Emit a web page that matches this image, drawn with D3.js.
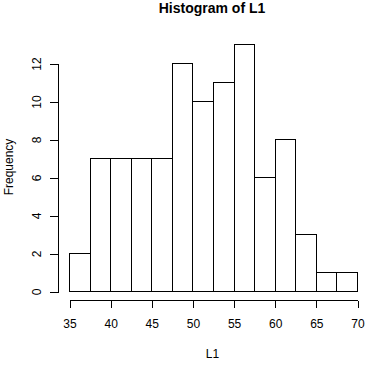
<!DOCTYPE html>
<html>
<head>
<meta charset="utf-8">
<script src="https://cdn.jsdelivr.net/npm/d3@7"></script>
<style>
  body { margin: 0; background: #fff; }
  text { font-family: "Liberation Sans", Arial, sans-serif; }
</style>
</head>
<body>
<svg id="chart" width="370" height="366"></svg>
<script>
// bordi delle classi e frequenze
const breaks = [35, 37.5, 40, 42.5, 45, 47.5, 50, 52.5, 55, 57.5, 60, 62.5, 65, 67.5, 70];
const counts = [2, 7, 7, 7, 7, 12, 10, 11, 13, 6, 8, 3, 1, 1];
const xTicks = [35, 40, 45, 50, 55, 60, 65, 70];
const yTicks = [0, 2, 4, 6, 8, 10, 12];

const svg = d3.select("#chart");

// scale
const x = d3.scaleLinear().domain([35, 70]).range([69.5, 357.5]);
const y = d3.scaleLinear().domain([0, 12]).range([291.5, 63.5]);

const bins = counts.map((c, i) => ({ x0: breaks[i], x1: breaks[i + 1], n: c }));

// barre
svg.append("g")
    .selectAll("rect")
    .data(bins)
    .enter()
    .append("rect")
    .attr("x", d => x(d.x0))
    .attr("y", d => y(d.n))
    .attr("width", d => x(d.x1) - x(d.x0))
    .attr("height", d => y(0) - y(d.n))
    .attr("fill", "none")
    .attr("stroke", "#000")
    .attr("stroke-width", 1)
    .attr("shape-rendering", "crispEdges");

// asse x
const xAxis = svg.append("g")
    .attr("transform", "translate(0,300.5)")
    .call(d3.axisBottom(x).tickValues(xTicks).tickSize(7).tickPadding(12).tickFormat(d3.format("d")));
xAxis.attr("shape-rendering", "crispEdges");
xAxis.selectAll("text").attr("font-size", 12).attr("fill", "#000").style("font-family", "Liberation Sans, Arial, sans-serif");
xAxis.select(".domain").attr("d", `M${x(35)},0H${x(70)}`);

// asse y
const yAxis = svg.append("g")
    .attr("transform", "translate(58.5,0)")
    .call(d3.axisLeft(y).tickValues(yTicks).tickSize(9).tickFormat(d3.format("d")));
yAxis.attr("shape-rendering", "crispEdges");
yAxis.select(".domain").attr("d", `M0,${y(0)}V${y(12)}`);
// ruota le etichette attorno al proprio tick
yAxis.selectAll(".tick text")
    .attr("x", 0)
    .attr("y", -22)
    .attr("dy", "0.35em")
    .attr("text-anchor", "middle")
    .attr("transform", "rotate(-90)")
    .attr("font-size", 12)
    .attr("fill", "#000")
    .style("font-family", "Liberation Sans, Arial, sans-serif");

// titolo ed etichette
svg.append("text")
    .attr("x", 212)
    .attr("y", 13)
    .attr("text-anchor", "middle")
    .attr("font-size", 14)
    .attr("font-weight", "bold")
    .text("Histogram of L1");

svg.append("text")
    .attr("x", 212.5)
    .attr("y", 358)
    .attr("text-anchor", "middle")
    .attr("font-size", 12)
    .text("L1");

svg.append("text")
    .attr("transform", "translate(13,167) rotate(-90)")
    .attr("text-anchor", "middle")
    .attr("font-size", 12)
    .text("Frequency");
</script>
</body>
</html>
